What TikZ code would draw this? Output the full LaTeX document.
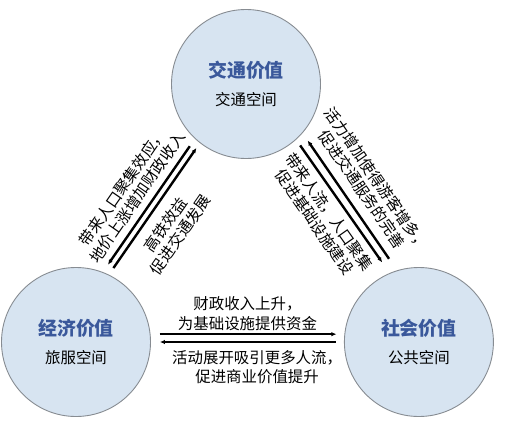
\documentclass[tikz,border=0pt]{standalone}
\usepackage{fontspec}
\newfontfamily\cjk{Noto Sans CJK SC}
\usetikzlibrary{arrows.meta,positioning}
\definecolor{bubblefill}{RGB}{215,228,241}
\definecolor{bubbleline}{RGB}{135,140,146}
\definecolor{titleblue}{RGB}{58,88,155}
\tikzset{
  valuenode/.style={circle, draw=bubbleline, line width=0.9bp, fill=bubblefill,
    minimum size=149bp, inner sep=0pt, align=center, font=\cjk\fontsize{15.5}{28.5}\selectfont},
  arr/.style={-{Latex[length=5bp,width=4.5bp]}, line width=2.4bp},
  tiltnote/.style={font=\cjk\fontsize{15.5}{18}\selectfont, align=center, inner sep=1bp},
  flatnote/.style={font=\cjk\fontsize{15.5}{20}\selectfont, align=center, inner sep=1bp}
}
\newcommand{\valtitle}[1]{{\fontsize{19}{28.5}\selectfont\bfseries\color{titleblue}#1}}

\begin{document}
\begin{tikzpicture}[x=1bp, y=1bp]
  \useasboundingbox (0,0) rectangle (506,423);
  \node[valuenode] (econ) at (76,81) {\valtitle{经济价值}\\旅服空间};
  \node[valuenode, right=193bp of econ] (social) {\valtitle{社会价值}\\公共空间};
  \node[valuenode] (traffic) at (246,339) {\valtitle{交通价值}\\交通空间};

  % transport <-> economy
  \draw[arr, shorten <=9bp, shorten >=9bp] (traffic.227) -- (econ.69)
    node[tiltnote, midway, sloped, above, outer sep=6bp] {带来人口聚集效应，\\地价上涨增加财政收入};
  \draw[arr, shorten <=8bp, shorten >=6bp] (econ.64) -- (traffic.232)
    node[tiltnote, pos=0.46, sloped, below, outer sep=10bp] {高铁效益\\促进交通发展};

  % transport <-> society
  \draw[arr, shorten <=14bp, shorten >=9bp] (social.107) -- (traffic.319)
    node[tiltnote, pos=0.52, sloped, above, outer sep=9bp] {活力增加使得游客增多，\\促进交通服务的完善};
  \draw[arr, shorten <=7bp, shorten >=13bp] (traffic.312) -- (social.113)
    node[tiltnote, pos=0.48, sloped, below, outer sep=6bp] {带来人流，人口聚集\\促进基础设施建设};

  % economy <-> society
  \draw[arr, shorten <=9bp, shorten >=8bp] (econ.6) -- (social.174)
    node[flatnote, midway, above, outer sep=2bp] {财政收入上升，\\为基础设施提供资金};
  \draw[arr, shorten <=8bp, shorten >=9bp] (social.west) -- (econ.east)
    node[flatnote, pos=0.45, below, outer sep=7bp] {活动展开吸引更多人流，\\促进商业价值提升};
\end{tikzpicture}
\end{document}
